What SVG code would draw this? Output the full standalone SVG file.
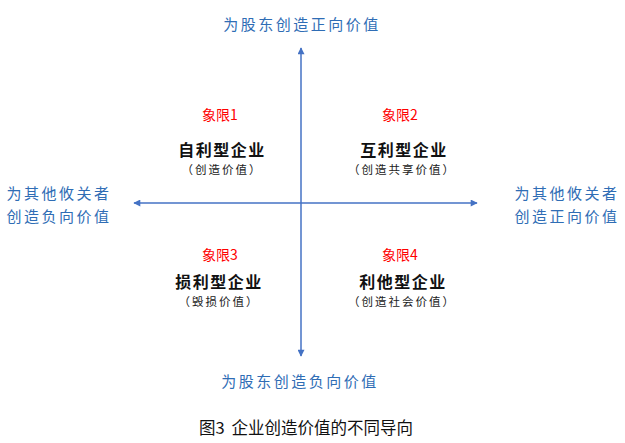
<svg xmlns="http://www.w3.org/2000/svg" width="625" height="443" viewBox="0 0 625 443">
<defs>
<style>
.t{font-family:"Noto Sans CJK SC","Noto Sans",sans-serif;text-anchor:middle;dominant-baseline:central}
.blue{fill:#2F6DB5;font-size:15px;letter-spacing:2.5px}
.q{fill:#FF0000;font-size:14px}
.h{fill:#111;font-size:16px;font-weight:bold;letter-spacing:1.5px}
.s{fill:#222;font-size:11.5px;letter-spacing:2px}
.cap{fill:#111;font-size:16.5px}
.ax{stroke:#4472C4;stroke-width:1.5;fill:none}
</style>
<marker id="ah" viewBox="0 0 10 10" refX="9" refY="5" markerWidth="8" markerHeight="7" markerUnits="userSpaceOnUse" orient="auto">
<path d="M0,0 L10,5 L0,10 z" fill="#4472C4"/>
</marker>
</defs>
<rect width="625" height="443" fill="#fff"/>
<g id="connectors">
<line class="ax" x1="301" y1="203" x2="301" y2="48" marker-end="url(#ah)"/>
<line class="ax" x1="301" y1="203" x2="301" y2="356" marker-end="url(#ah)"/>
<line class="ax" x1="301" y1="203" x2="134" y2="203" marker-end="url(#ah)"/>
<line class="ax" x1="301" y1="203" x2="477" y2="203" marker-end="url(#ah)"/>
</g>
<g id="top-label"><text class="t blue" x="302" y="23">为股东创造正向价值</text></g>
<g id="bottom-label"><text class="t blue" x="300" y="380">为股东创造负向价值</text></g>
<g id="left-label">
<text class="t blue" x="59" y="192">为其他攸关者</text>
<text class="t blue" x="59" y="215">创造负向价值</text>
</g>
<g id="right-label">
<text class="t blue" x="567" y="192">为其他攸关者</text>
<text class="t blue" x="567" y="215">创造正向价值</text>
</g>
<g id="q1">
<text class="t q" x="220" y="114">象限1</text>
<text class="t h" x="222" y="149">自利型企业</text>
<text class="t s" x="222" y="169">（创造价值）</text>
</g>
<g id="q2">
<text class="t q" x="400" y="114">象限2</text>
<text class="t h" x="404" y="149">互利型企业</text>
<text class="t s" x="402" y="169">（创造共享价值）</text>
</g>
<g id="q3">
<text class="t q" x="220" y="254">象限3</text>
<text class="t h" x="219" y="281">损利型企业</text>
<text class="t s" x="219" y="301">（毁损价值）</text>
</g>
<g id="q4">
<text class="t q" x="400" y="254">象限4</text>
<text class="t h" x="403" y="281">利他型企业</text>
<text class="t s" x="402" y="301">（创造社会价值）</text>
</g>
<g id="caption"><text class="t cap" x="306" y="427">图3 <tspan dx="3">企业创造价值的不同导向</tspan></text></g>
</svg>
